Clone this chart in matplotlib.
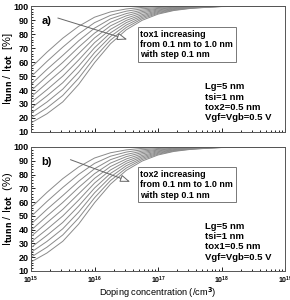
import numpy as np
import matplotlib
matplotlib.use('Agg')
import matplotlib.pyplot as plt
from matplotlib.ticker import MultipleLocator, LogLocator, NullFormatter

plt.rcParams['font.family'] = ['Liberation Sans', 'DejaVu Sans']
plt.rcParams['font.weight'] = 'bold'
plt.rcParams['mathtext.default'] = 'bf'

# doping concentration (/cm3) sample points
doping = [1e15, 1.78e15, 3.16e15, 5.62e15, 1e16, 1.78e16, 3.16e16, 5.62e16,
          1e17, 1.78e17, 3.16e17, 5.62e17, 1e18, 1e19]

# Itunn/Itot [%], one row per doping point, one column per oxide thickness (0.1 .. 1.0 nm)
rows_a = [
    [56.0, 49.5, 44.0, 39.5, 35.0, 31.0, 27.0, 23.5, 20.0, 16.5],
    [67.0, 60.4, 54.7, 49.8, 45.0, 40.2, 35.8, 31.4, 27.2, 23.0],
    [77.0, 70.6, 64.7, 59.7, 54.7, 49.9, 45.2, 40.6, 36.1, 31.5],
    [85.5, 80.1, 75.1, 70.6, 66.0, 61.4, 57.1, 52.7, 48.4, 44.0],
    [92.0, 88.1, 84.2, 80.6, 77.2, 73.8, 70.2, 66.7, 63.1, 59.5],
    [95.8, 93.3, 90.8, 88.3, 85.8, 83.3, 80.8, 78.2, 75.6, 73.0],
    [97.9, 96.3, 94.6, 93.0, 91.3, 89.7, 88.1, 86.4, 84.7, 83.0],
    [99.0, 98.0, 97.0, 96.0, 95.0, 93.9, 92.9, 91.9, 90.9, 89.8],
    [99.5, 98.9, 98.3, 97.8, 97.2, 96.6, 96.0, 95.4, 94.8, 94.2],
    [99.75, 99.4, 99.1, 98.8, 98.5, 98.1, 97.8, 97.5, 97.1, 96.8],
    [99.9, 99.7, 99.5, 99.3, 99.2, 99.0, 98.8, 98.6, 98.4, 98.2],
    [99.95, 99.85, 99.75, 99.65, 99.55, 99.45, 99.35, 99.25, 99.1, 99.0],
    [100., 99.95, 99.9, 99.85, 99.8, 99.8, 99.75, 99.7, 99.65, 99.6],
    [100., 100., 100., 100., 100., 100., 100., 100., 100., 100.],
]
rows_b = rows_a  # panel b reads the same off the picture

panels = [
    dict(rows=rows_a, tag='a)', ylabel=r'I$_{tunn}$ / I$_{tot}$  [%]',
         box='tox1 increasing\nfrom 0.1 nm to 1.0 nm\nwith step 0.1 nm',
         params='Lg=5 nm\ntsi=1 nm\ntox2=0.5 nm\nVgf=Vgb=0.5 V',
         arrow=((2.4e15, 92), (3.6e16, 75.5))),
    dict(rows=rows_b, tag='b)', ylabel=r'I$_{tunn}$ / I$_{tot}$  (%)',
         box='tox2 increasing\nfrom 0.1 nm to 1.0 nm\nwith step 0.1 nm',
         params='Lg=5 nm\ntsi=1 nm\ntox1=0.5 nm\nVgf=Vgb=0.5 V',
         arrow=((3.8e15, 91.5), (4.0e16, 74))),
]

fig = plt.figure(figsize=(2.9, 3.0), dpi=100)
ax_pos = [[0.107, 0.56, 0.876, 0.42], [0.107, 0.097, 0.876, 0.413]]

for i, p in enumerate(panels):
    ax = fig.add_axes(ax_pos[i])
    data = np.array(p['rows']).T
    for curve in data:
        ax.plot(doping, curve, color='#8a8a8a', lw=0.7)
    ax.set_xscale('log')
    ax.set_xlim(1e15, 1e19)
    ax.set_ylim(10, 100)
    ax.yaxis.set_major_locator(MultipleLocator(10))
    ax.yaxis.set_minor_locator(MultipleLocator(2))
    ax.xaxis.set_major_locator(LogLocator(base=10))
    ax.xaxis.set_minor_locator(LogLocator(base=10, subs=np.arange(2, 10)))
    ax.xaxis.set_minor_formatter(NullFormatter())
    ax.tick_params(which='both', direction='in', top=False, right=False,
                   labelsize=6.5, width=0.6, pad=1.5)
    ax.tick_params(which='major', length=3)
    ax.tick_params(which='minor', length=1.5)
    ax.tick_params(axis='x', labelsize=5, pad=3)
    for s in ax.spines.values():
        s.set_linewidth(0.7)
        s.set_color('#555555')
    if i == 0:
        ax.set_xticklabels([])
    else:
        ax.set_xlabel('Doping concentration (/cm$^3$)', fontsize=6.7, labelpad=-0.5)
    ax.set_ylabel(p['ylabel'], fontsize=8)
    ax.yaxis.set_label_coords(-0.065, 0.5)
    ax.text(0.04, 0.92, p['tag'], transform=ax.transAxes, fontsize=8,
            ha='left', va='top')
    ax.annotate('', xy=p['arrow'][1], xytext=p['arrow'][0],
                arrowprops=dict(arrowstyle='-|>,head_length=0.6,head_width=0.22',
                                fc='white', ec='#666666', lw=0.7))
    ax.text(0.43, 0.695, p['box'], transform=ax.transAxes, fontsize=6.4,
            ha='left', va='center', linespacing=1.2,
            bbox=dict(boxstyle='square,pad=0.3', fc='white', ec='#777777', lw=0.7))
    ax.text(0.685, 0.235, p['params'], transform=ax.transAxes, fontsize=6.8,
            ha='left', va='center', linespacing=1.2)

fig.savefig('out.png', dpi=100)
